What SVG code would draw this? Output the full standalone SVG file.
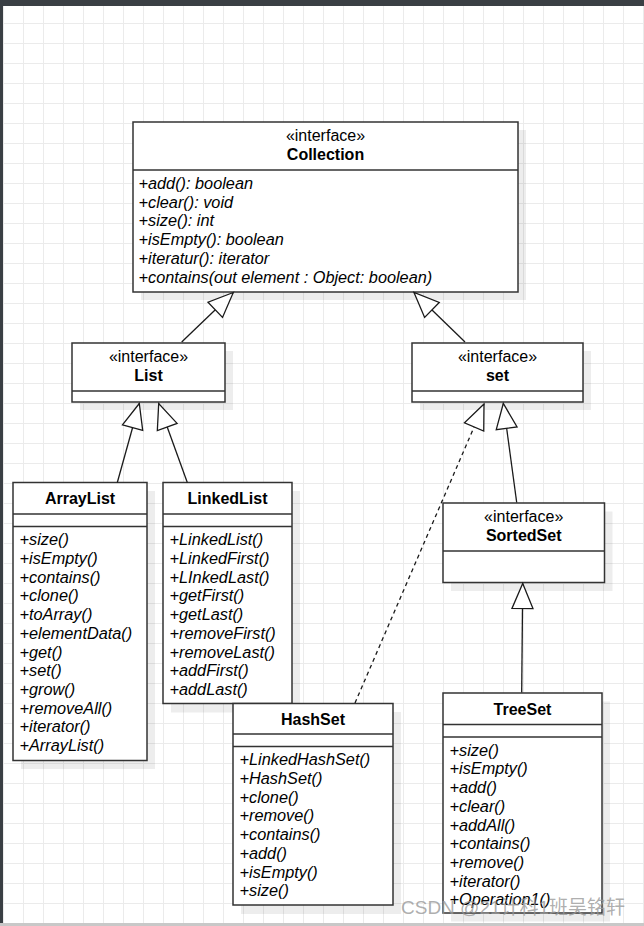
<svg xmlns="http://www.w3.org/2000/svg" width="644" height="926" viewBox="0 0 644 926">
<defs>
<pattern id="grid" x="3" y="3" width="20" height="20" patternUnits="userSpaceOnUse">
<rect x="0" y="0" width="1" height="20" fill="#ebebeb"/>
<rect x="0" y="0" width="20" height="1" fill="#ebebeb"/>
</pattern>
<marker id="tri" markerUnits="userSpaceOnUse" markerWidth="30" markerHeight="30" viewBox="-2 -2 30 26" refX="25" refY="11" orient="auto" overflow="visible">
<path d="M25,11 L0,0.5 L0,21.5 Z" fill="#fff" stroke="#1a1a1a" stroke-width="1.3" stroke-dasharray="none" stroke-linejoin="miter"/>
</marker>
<style>
.box{fill:#fff;stroke:#333;stroke-width:1.5}
.sh{fill:#000;fill-opacity:0.07}
.div{stroke:#333;stroke-width:1.5}
text{font-family:"Liberation Sans",Arial,sans-serif;font-size:16px;fill:#000}
.st{text-anchor:middle}
.tt{text-anchor:middle;font-weight:bold}
.at{font-style:italic;font-size:16.3px}
.ln{fill:none;stroke:#1a1a1a;stroke-width:1.3}
.dash{stroke-dasharray:4 3.5}
.wm{font-family:"Liberation Sans","Noto Sans CJK SC",sans-serif;font-size:19px;fill:#999;fill-opacity:0.8}
</style>
</defs>
<rect x="0" y="0" width="644" height="926" fill="#fff"/>
<rect x="3" y="6" width="641" height="917" fill="url(#grid)"/>
<rect x="0" y="0" width="644" height="6" fill="#3a3f44"/>
<rect x="0" y="0" width="3" height="926" fill="#3a3f44"/>
<rect x="0" y="923" width="644" height="3" fill="#c8c8c8"/>

<g id="collection">
<rect class="sh" x="141" y="130" width="385" height="170"/>
<rect class="box" x="133" y="122" width="385" height="170"/>
<line class="div" x1="133" y1="170" x2="518" y2="170"/>
<text class="st" x="325.5" y="140.5">«interface»</text>
<text class="tt" x="325.5" y="159.5">Collection</text>
<text class="at" x="138.5" y="189">+add(): boolean</text>
<text class="at" x="138.5" y="207.7">+clear(): void</text>
<text class="at" x="138.5" y="226.4">+size(): int</text>
<text class="at" x="138.5" y="245.1">+isEmpty(): boolean</text>
<text class="at" x="138.5" y="263.8">+iteratur(): iterator</text>
<text class="at" x="138.5" y="282.5">+contains(out element : Object: boolean)</text>
</g>

<g id="list">
<rect class="sh" x="80" y="351" width="153" height="59"/>
<rect class="box" x="72" y="343" width="153" height="59"/>
<line class="div" x1="72" y1="391" x2="225" y2="391"/>
<text class="st" x="148.5" y="361.5">«interface»</text>
<text class="tt" x="148.5" y="380.5">List</text>
</g>

<g id="set">
<rect class="sh" x="420" y="351" width="171" height="59"/>
<rect class="box" x="412" y="343" width="171" height="59"/>
<line class="div" x1="412" y1="391" x2="583" y2="391"/>
<text class="st" x="497.5" y="361.5">«interface»</text>
<text class="tt" x="497.5" y="380.5">set</text>
</g>

<g id="arraylist">
<rect class="sh" x="21" y="491" width="134" height="278"/>
<rect class="box" x="13" y="482.5" width="134" height="278"/>
<line class="div" x1="13" y1="514" x2="147" y2="514"/>
<line class="div" x1="13" y1="526.5" x2="147" y2="526.5"/>
<text class="tt" x="80" y="504">ArrayList</text>
<text class="at" x="19.5" y="545.3">+size()</text>
<text class="at" x="19.5" y="564">+isEmpty()</text>
<text class="at" x="19.5" y="582.7">+contains()</text>
<text class="at" x="19.5" y="601.4">+clone()</text>
<text class="at" x="19.5" y="620.1">+toArray()</text>
<text class="at" x="19.5" y="638.8">+elementData()</text>
<text class="at" x="19.5" y="657.5">+get()</text>
<text class="at" x="19.5" y="676.2">+set()</text>
<text class="at" x="19.5" y="694.9">+grow()</text>
<text class="at" x="19.5" y="713.6">+removeAll()</text>
<text class="at" x="19.5" y="732.3">+iterator()</text>
<text class="at" x="19.5" y="751">+ArrayList()</text>
</g>

<g id="linkedlist">
<rect class="sh" x="171" y="491" width="129" height="221.5"/>
<rect class="box" x="163" y="482.5" width="129" height="221"/>
<line class="div" x1="163" y1="514" x2="292" y2="514"/>
<line class="div" x1="163" y1="526.5" x2="292" y2="526.5"/>
<text class="tt" x="227.5" y="504">LinkedList</text>
<text class="at" x="169.5" y="545.3">+LinkedList()</text>
<text class="at" x="169.5" y="564">+LinkedFirst()</text>
<text class="at" x="169.5" y="582.7">+LInkedLast()</text>
<text class="at" x="169.5" y="601.4">+getFirst()</text>
<text class="at" x="169.5" y="620.1">+getLast()</text>
<text class="at" x="169.5" y="638.8">+removeFirst()</text>
<text class="at" x="169.5" y="657.5">+removeLast()</text>
<text class="at" x="169.5" y="676.2">+addFirst()</text>
<text class="at" x="169.5" y="694.9">+addLast()</text>
</g>

<g id="hashset">
<rect class="sh" x="241" y="712" width="160" height="202"/>
<rect class="box" x="233" y="703.5" width="160" height="201.5"/>
<line class="div" x1="233" y1="734" x2="393" y2="734"/>
<line class="div" x1="233" y1="746.5" x2="393" y2="746.5"/>
<text class="tt" x="313" y="724.5">HashSet</text>
<text class="at" x="239.5" y="765.3">+LinkedHashSet()</text>
<text class="at" x="239.5" y="784">+HashSet()</text>
<text class="at" x="239.5" y="802.7">+clone()</text>
<text class="at" x="239.5" y="821.4">+remove()</text>
<text class="at" x="239.5" y="840.1">+contains()</text>
<text class="at" x="239.5" y="858.8">+add()</text>
<text class="at" x="239.5" y="877.5">+isEmpty()</text>
<text class="at" x="239.5" y="896.2">+size()</text>
</g>

<g id="sortedset">
<rect class="sh" x="451" y="511.5" width="161.5" height="79.5"/>
<rect class="box" x="443" y="503" width="161.5" height="79.5"/>
<line class="div" x1="443" y1="551" x2="604.5" y2="551"/>
<text class="st" x="523.7" y="521.5">«interface»</text>
<text class="tt" x="523.7" y="540.5">SortedSet</text>
</g>

<g id="treeset">
<rect class="sh" x="451" y="701.5" width="159" height="220"/>
<rect class="box" x="443" y="693" width="159" height="220"/>
<line class="div" x1="443" y1="724.5" x2="602" y2="724.5"/>
<line class="div" x1="443" y1="737" x2="602" y2="737"/>
<text class="tt" x="522.5" y="714.5">TreeSet</text>
<text class="at" x="449.5" y="755.7">+size()</text>
<text class="at" x="449.5" y="774.4">+isEmpty()</text>
<text class="at" x="449.5" y="793.1">+add()</text>
<text class="at" x="449.5" y="811.8">+clear()</text>
<text class="at" x="449.5" y="830.5">+addAll()</text>
<text class="at" x="449.5" y="849.2">+contains()</text>
<text class="at" x="449.5" y="867.9">+remove()</text>
<text class="at" x="449.5" y="886.6">+iterator()</text>
<text class="at" x="449.5" y="905.3">+Operation1()</text>
</g>

<g id="connectors">
<path class="ln" d="M181.7,342 L233.3,292.5" marker-end="url(#tri)"/>
<path class="ln" d="M465,342 L414,292.5" marker-end="url(#tri)"/>
<path class="ln" d="M117.3,482.5 L139.3,403.5" marker-end="url(#tri)"/>
<path class="ln" d="M187.3,482.5 L158.7,403.5" marker-end="url(#tri)"/>
<path class="ln dash" d="M355,703 L484,404" marker-end="url(#tri)"/>
<path class="ln" d="M516.7,502.5 L503.3,403.5" marker-end="url(#tri)"/>
<path class="ln" d="M521.7,692.5 L522.7,583.5" marker-end="url(#tri)"/>
</g>

<text class="wm" x="401" y="914">CSDN @21计科1班吴铭轩</text>
</svg>
